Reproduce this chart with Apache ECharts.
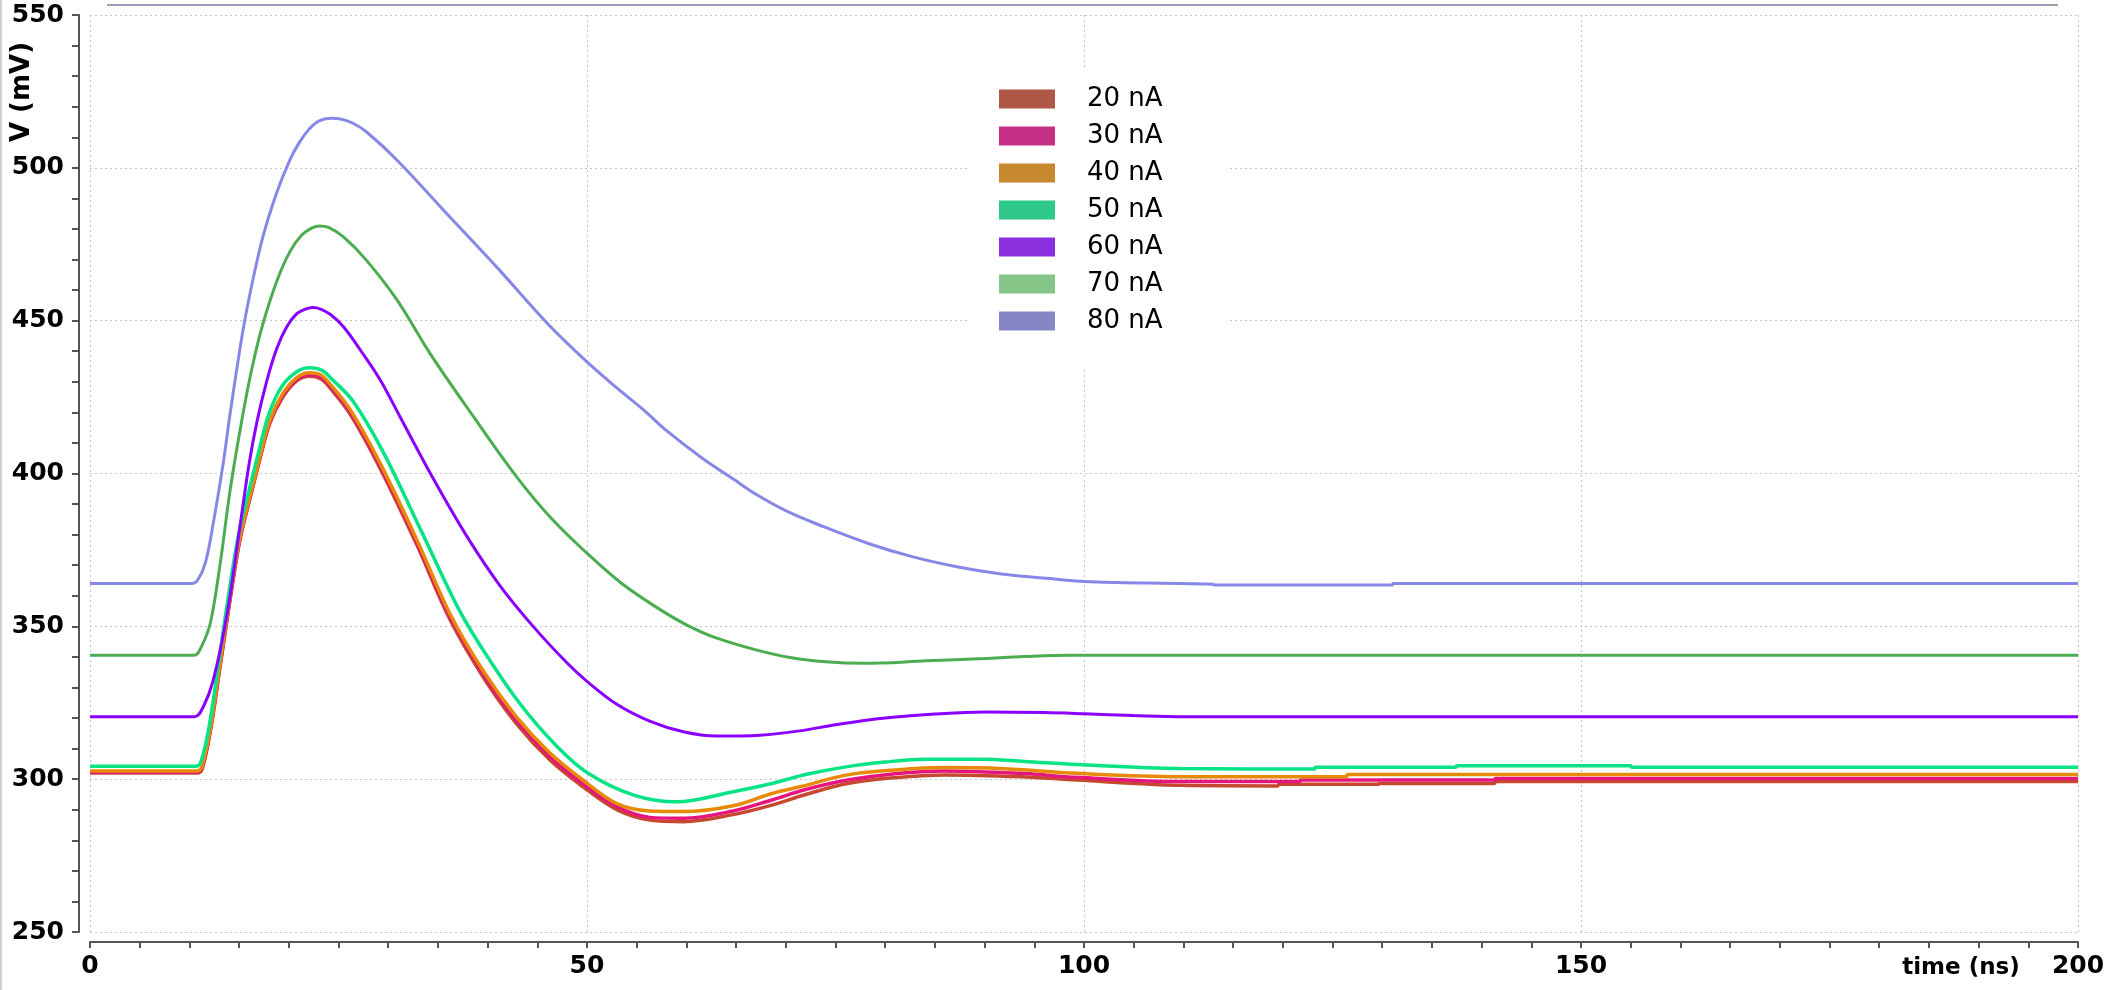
<!DOCTYPE html>
<html>
<head>
<meta charset="utf-8">
<script src="https://cdn.jsdelivr.net/npm/echarts@6/dist/echarts.min.js"></script>
<style>
html,body{margin:0;padding:0;background:#fff;}
#chart{width:2112px;height:990px;}
</style>
</head>
<body>
<div id="chart"></div>
<script>
// ---- data (time in ns, voltage in mV) ----
const seriesNames = ['20 nA','30 nA','40 nA','50 nA','60 nA','70 nA','80 nA'];
const xTicks = [0, 50, 100, 150, 200];
const yTicks = [250, 300, 350, 400, 450, 500, 550];

const s20 = [[0,302],[10.8,302],[11.3,303.5],[12.1,315.5],[13.1,337],[14.1,358.8],[15.1,378.5],[16.1,391.8],[17.1,404.8],[18.1,416.5],[19.4,425],[20.8,430.3],[22.1,431.8],[23.2,431],[24.1,428.2],[26.2,419.3],[29.2,401.6],[32.9,376.5],[36.2,352.3],[39.6,333.2],[42.9,318.2],[46.3,306.2],[49.6,297.5],[53,290],[56.3,286.6],[59.7,286.1],[64.7,288.4],[68.6,291.5],[72,295],[76.2,298.6],[81,300.5],[85.9,301.4],[93.6,300.8],[99.3,299.7],[109.7,298],[119.5,297.8],[119.6,298.3],[129.6,298.3],[129.7,298.6],[141.3,298.6],[141.4,299.2],[200,299.2]];
const s30 = [[0,302.3],[10.8,302.3],[11.3,304],[12.1,316],[13.1,337.6],[14.1,359.4],[15.1,379],[16.1,392.2],[17.1,405.1],[18.1,417],[19.4,425.6],[20.8,430.8],[22.1,432.3],[23.2,431.6],[24.1,428.8],[26.2,420],[29.2,402.4],[32.9,377.3],[36.2,353.2],[39.6,334.2],[42.9,319.2],[46.3,307.2],[49.6,298.5],[53,291],[56.3,287.5],[59.7,287.2],[64.7,289.6],[68.6,293.2],[72,296.6],[76.2,299.7],[81,301.8],[85.9,302.7],[93.6,301.9],[99.3,300.6],[109.7,299.2],[121.7,299.2],[121.8,299.7],[141.3,299.7],[141.4,300.2],[200,300.2]];
const s40 = [[0,302.7],[10.8,302.7],[11.3,304.5],[12.1,316.5],[13.1,338.2],[14.1,360],[15.1,379.5],[16.1,392.6],[17.1,405.5],[18.1,417.5],[19.4,426.2],[20.8,431.4],[22.1,433],[23.2,432.3],[24.1,429.5],[26.2,420.8],[29.2,403.3],[32.9,378.2],[36.2,354.2],[39.6,335.2],[42.9,320.4],[46.3,308.5],[49.6,299.7],[53,292],[56.3,289.6],[59.7,289.4],[64.7,291.3],[68.6,295.3],[71.4,297.5],[76.2,301.4],[81,303],[85.9,303.8],[91.6,303.5],[99.3,301.9],[109.7,300.8],[126.4,300.8],[126.5,301.5],[200,301.5]];
const s50 = [[0,304.2],[10.7,304.2],[11.2,306],[12,317.5],[13,339.5],[14,361.5],[15,381],[16,394.5],[17,407.5],[18,419.5],[19.3,428.5],[20.8,433.3],[22.1,434.6],[23.3,433.8],[24.3,431],[26.5,423.5],[29.5,407],[33.5,380],[37.2,355],[40.5,337.5],[43.3,324.5],[46.6,312],[50,302.2],[54.7,294.8],[59,292.6],[64.7,295.9],[68.6,298.6],[72,301.5],[76.2,304.1],[80,305.6],[83.9,306.5],[89.7,306.5],[94,305.8],[99.3,304.8],[109.7,303.5],[123.2,303.3],[123.3,303.9],[137.4,303.9],[137.5,304.4],[155,304.4],[155.1,303.9],[200,303.9]];
const s60 = [[0,320.4],[10.5,320.4],[11.4,323.7],[12.4,332.4],[13.8,354.2],[15.1,383],[16,403],[16.8,417],[17.8,430.5],[18.8,441],[19.8,448],[20.8,452.3],[21.6,453.7],[22.4,454.3],[23.2,453.8],[24.2,452],[25.5,448],[27.2,440.4],[29.2,430.6],[31.2,418.5],[34.5,398.5],[37.9,379.5],[41.2,363.5],[44.6,349.9],[48,338],[50,332],[53,324.5],[56.3,319],[59.7,315.5],[63,314.1],[67.4,314.4],[71.4,315.8],[75,317.8],[80,320],[85,321.3],[90,322],[96,321.8],[100,321.4],[105,320.8],[110,320.4],[200,320.4]];
const s70 = [[0,340.5],[10.5,340.5],[11.2,343.3],[12.1,351],[13.1,370.6],[14.1,394.6],[15.4,419.7],[16.4,436],[17.4,449],[18.8,463],[20.1,472.5],[21.3,478],[22.3,480.3],[23.1,481],[24,480.5],[25.5,477.4],[27.8,469.8],[30.9,456.7],[34.2,439.3],[38.6,418.5],[42.9,399],[46.5,385],[50,373.9],[53.5,364],[57,356.2],[60,350.5],[63,346.2],[67,342.3],[70.6,339.7],[74,338.4],[77.8,337.9],[84.1,338.7],[90,339.5],[94,340.1],[98.5,340.5],[200,340.5]];
const s80 = [[0,364],[10.2,364],[10.8,365],[11.6,370.7],[12.4,383.7],[13.4,403.3],[14.1,419.7],[15.4,447],[16.3,462],[17.4,477.5],[18.8,492],[20.1,502.5],[21,508],[22,512.5],[23,515.3],[24.2,516.2],[25.2,516],[26.5,514.5],[27.8,511.8],[30.9,502.5],[35.9,485],[40.9,467.6],[45.9,449.5],[50,436.5],[53,428],[55.8,420.5],[58,414],[61.6,405],[64.8,398],[67,393.2],[70.2,387.5],[73.8,382.6],[78.3,377.1],[82.7,372.8],[87.2,369.5],[91.7,367.1],[96.2,365.7],[100.7,364.6],[109.7,364.0],[113,363.8],[113.1,363.5],[131,363.5],[131.1,364],[200,364]];

const seriesData = [s20, s30, s40, s50, s60, s70, s80];
const lineColors = ['#c6492f','#e6157e','#e68a08','#08e386','#8a00ff','#4cad50','#8787e8'];
const legendColors = ['#b05848','#c42f85','#c8882e','#2ec888','#8a2ede','#84c487','#8686c6'];

const FONT = 'DejaVu Sans';
const chart = echarts.init(document.getElementById('chart'), null, {renderer:'canvas'});

const option = {
  animation: false,
  backgroundColor: '#ffffff',
  grid: {left: 90, right: 34, top: 15, bottom: 58, containLabel: false},
  legend: {
    orient: 'vertical',
    left: 968, top: 70,
    padding: [16, 64, 33, 31],
    backgroundColor: '#ffffff',
    icon: 'rect',
    itemWidth: 56, itemHeight: 19, itemGap: 11,
    itemStyle: {borderWidth: 0},
    textStyle: {fontFamily: FONT, fontSize: 26, color: '#000', padding: [0,0,0,27]},
    data: seriesNames.map((n, i) => ({name: n, itemStyle: {color: legendColors[i]}}))
  },
  xAxis: {
    type: 'value', min: xTicks[0], max: xTicks[xTicks.length-1], interval: 50,
    offset: 10,
    axisLine: {show: true, onZero: false, lineStyle: {color: '#555', width: 2}},
    axisTick: {show: true, length: 6, lineStyle: {color: '#555', width: 2}},
    minorTick: {show: true, splitNumber: 10, length: 6, lineStyle: {color: '#555', width: 2}},
    axisLabel: {fontFamily: FONT, fontSize: 25, fontWeight: 'bold', color: '#000', margin: 12},
    splitLine: {show: true, lineStyle: {color: '#c4c4c4', width: 1, type: [2, 3]}}
  },
  yAxis: {
    type: 'value', min: yTicks[0], max: yTicks[yTicks.length-1], interval: 50,
    offset: 11,
    axisLine: {show: true, onZero: false, lineStyle: {color: '#555', width: 2}},
    axisTick: {show: true, length: 7, lineStyle: {color: '#555', width: 2}},
    minorTick: {show: true, splitNumber: 5, length: 7, lineStyle: {color: '#555', width: 2}},
    axisLabel: {fontFamily: FONT, fontSize: 25, fontWeight: 'bold', color: '#000', margin: 15},
    splitLine: {show: true, lineStyle: {color: '#c4c4c4', width: 1, type: [2, 3]}}
  },
  graphic: [
    {type: 'line', shape: {x1: 107, y1: 5, x2: 2058, y2: 5}, style: {stroke: '#9aa0b4', lineWidth: 2}, silent: true},
    {type: 'line', shape: {x1: 1, y1: 0, x2: 1, y2: 990}, style: {stroke: '#d0d0d0', lineWidth: 2}, silent: true},
    {type: 'text', x: 22, y: 92, rotation: Math.PI/2,
     style: {text: 'V (mV)', font: 'bold 26px "DejaVu Sans"', fill: '#000', align: 'center', verticalAlign: 'middle'}},
    {type: 'text', x: 1961, y: 968,
     style: {text: 'time (ns)', font: 'bold 23px "DejaVu Sans"', fill: '#000', align: 'center', verticalAlign: 'middle'}}
  ],
  series: seriesNames.map((n, i) => ({
    name: n, type: 'line', data: seriesData[i],
    showSymbol: false, symbol: 'none',
    smooth: 0.35,
    lineStyle: {color: lineColors[i], width: i < 4 ? 3.5 : 3},
    itemStyle: {color: lineColors[i]},
    z: 2 + i * 0.01
  }))
};
chart.setOption(option);
</script>
</body>
</html>
